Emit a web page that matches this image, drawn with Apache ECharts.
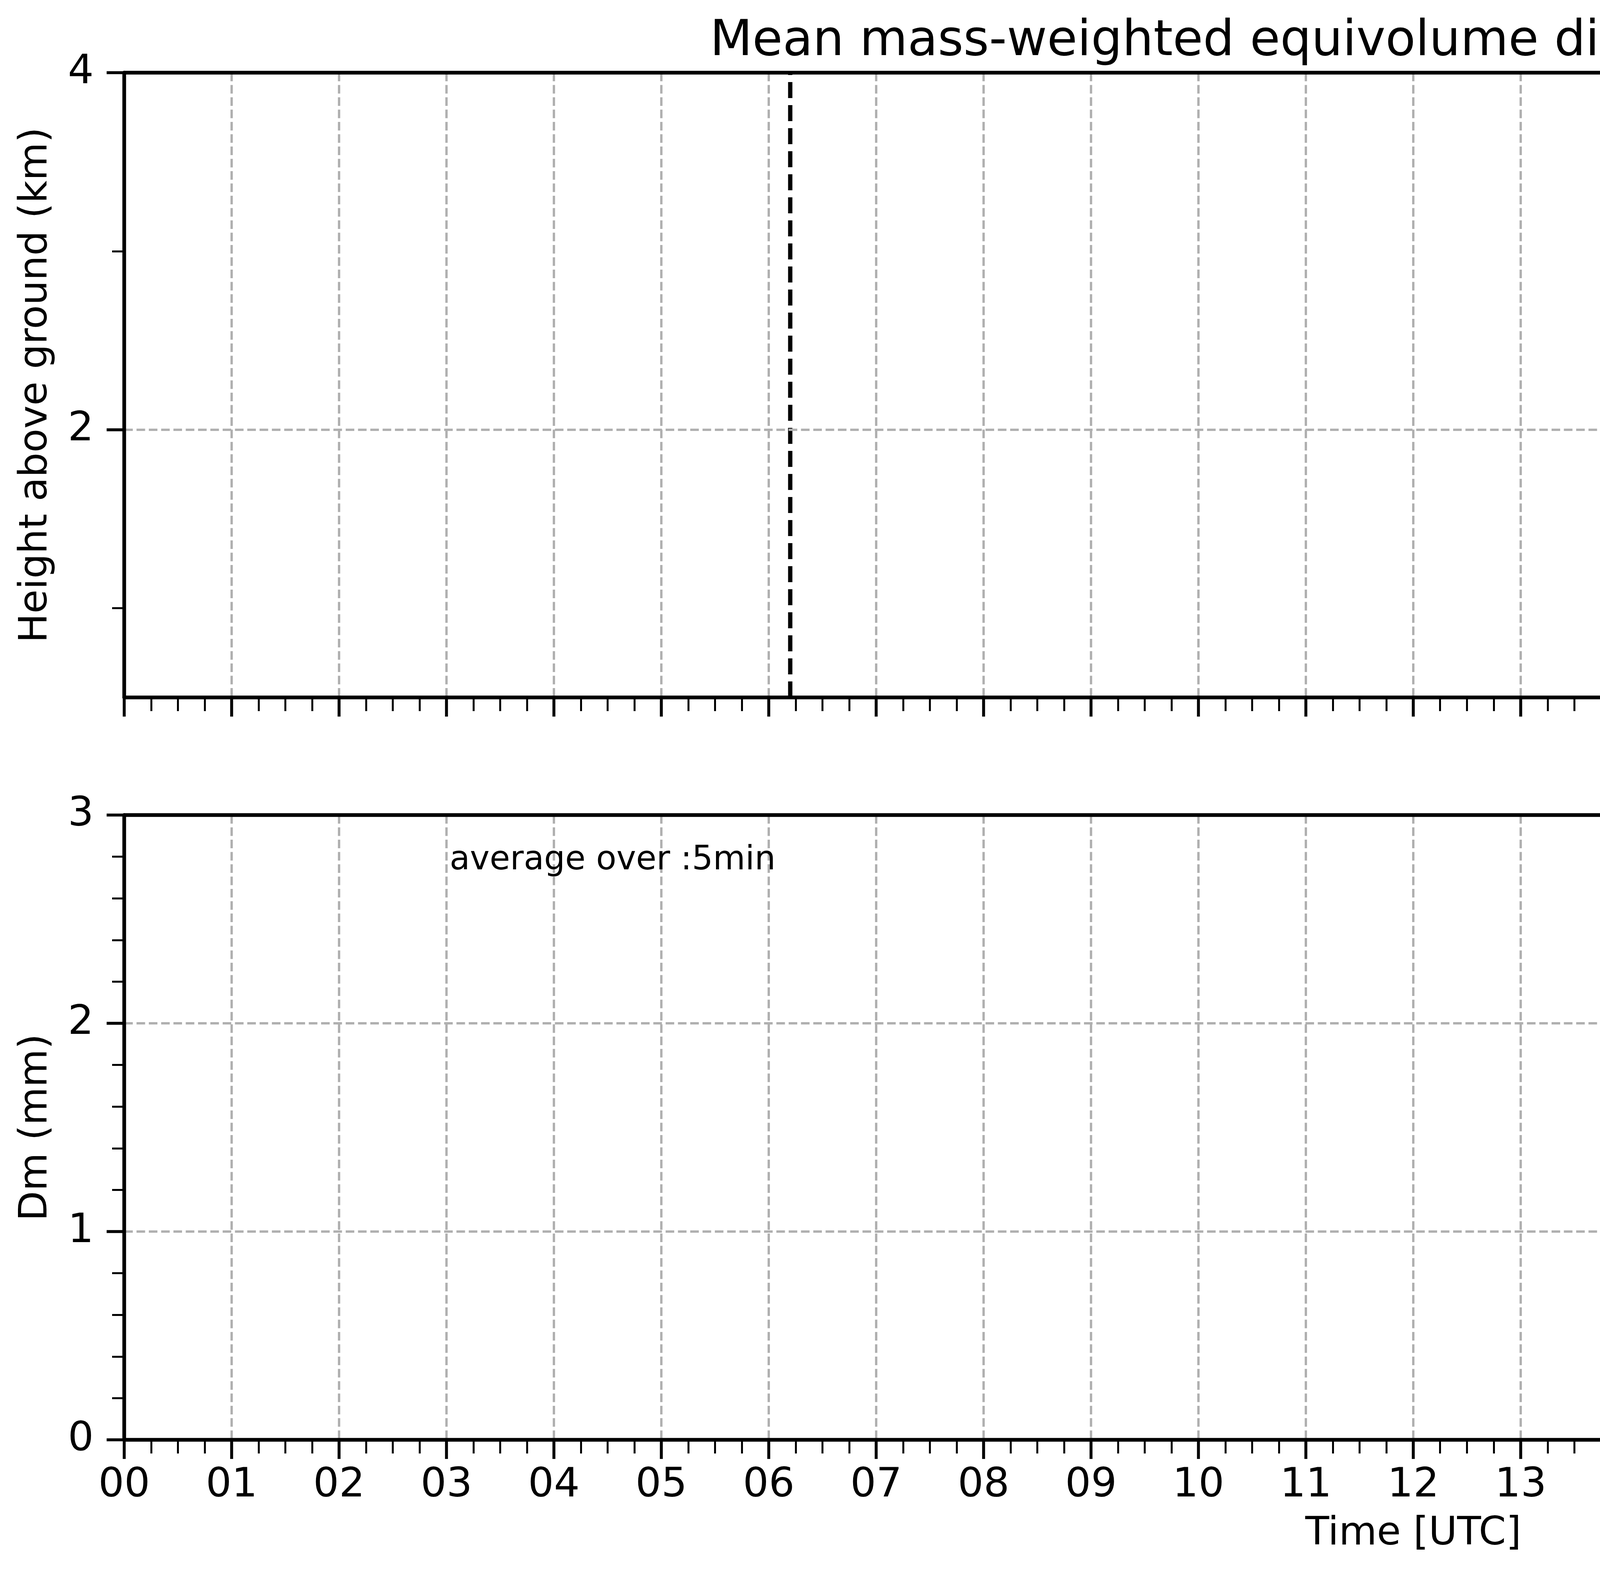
<!DOCTYPE html>
<html>
<head>
<meta charset="utf-8">
<script src="https://cdn.jsdelivr.net/npm/echarts@6/dist/echarts.min.js"></script>
<style>
html,body{margin:0;padding:0;background:#fff;overflow:hidden;}
#chart{width:7442px;height:4031px;}
</style>
</head>
<body>
<div id="chart"></div>
<script>
// ---------------- data ----------------
const titleText = 'Mean mass-weighted equivolume diameter on 20250219';
const hourLabels = ['00','01','02','03','04','05','06','07','08','09','10','11',
                    '12','13','14','15','16','17','18','19','20','21','22','23'];
const timeRange = [0, 24];
const heightRange = [0.5, 4];
const heightTicks = [2, 4];
const heightMinorTicks = [1, 3];
const dmRange = [0, 3];
const colorbarRange = [0, 2];
const colorbarTicks = [0, 0.4, 0.8, 1.2, 1.6, 2.0];
const eventTimes = [6.2, 16.7];      // dashed vertical markers (UTC hours)
const dmTimes = [];                  // no Dm observations on this day
const dmValues = [];
const noteText = 'average over :5min';
const noteAnchor = [3, 2.726];       // data coords in lower panel (hour, mm)

// ---------------- styling helpers ----------------
const FONT = 'DejaVu Sans';
const jetStops = [
  [0.000,'#000080'],[0.110,'#0000ff'],[0.125,'#0000ff'],[0.340,'#00dbff'],
  [0.350,'#00e5f7'],[0.375,'#14ffe2'],[0.640,'#eeff08'],[0.650,'#f7f500'],
  [0.660,'#ffec00'],[0.890,'#ff1300'],[0.910,'#e80000'],[1.000,'#800000']
];
const gridLine = {show:true, lineStyle:{color:'#b0b0b0', width:6, type:[22,9.5]}};
const axisLineStyle = {show:true, onZero:false, lineStyle:{color:'#000', width:9.5}};

function timeAxis(gridIndex, withLabels) {
  return {
    type:'value', gridIndex, position:'bottom', min:timeRange[0], max:timeRange[1], interval:1,
    axisLine: axisLineStyle,
    axisTick: {show:true, length:49, lineStyle:{color:'#000', width:7.5}},
    minorTick: {show:true, splitNumber:4, length:35, lineStyle:{color:'#000', width:5}},
    minorSplitLine: {show:false},
    splitLine: gridLine,
    axisLabel: {show:withLabels, margin:66, fontSize:104, color:'#000', fontFamily:FONT,
                showMinLabel:true, showMaxLabel:true,
                formatter: v => (hourLabels[Math.round(v)] !== undefined && Math.abs(v - Math.round(v)) < 1e-9) ? hourLabels[Math.round(v)] : ''},
    name: withLabels ? 'Time [UTC]' : '',
    nameLocation:'middle', nameGap:192,
    nameTextStyle:{fontSize:100, color:'#000', fontFamily:FONT},
    z: 4
  };
}
// plain spine (top / right) drawn above the grid lines
function spineX(gridIndex) {
  return {type:'value', gridIndex, position:'top', min:timeRange[0], max:timeRange[1],
          axisLine:axisLineStyle, axisTick:{show:false}, axisLabel:{show:false},
          splitLine:{show:false}, z:6};
}
function spineY(gridIndex, range) {
  return {type:'value', gridIndex, position:'right', min:range[0], max:range[1],
          axisLine:axisLineStyle, axisTick:{show:false}, axisLabel:{show:false},
          splitLine:{show:false}, z:6};
}

const chart = echarts.init(document.getElementById('chart'), null, {renderer:'canvas'});

const series = [];
// lower panel: Dm time series (empty for this date)
series.push({
  type:'line', xAxisIndex:1, yAxisIndex:2, symbol:'none',
  data: dmTimes.map((t,i) => [t, dmValues[i]]),
  lineStyle:{color:'#000', width:6}
});
// dashed event lines in the upper panel
eventTimes.forEach(t => {
  series.push({
    type:'line', xAxisIndex:0, yAxisIndex:0, symbol:'none', silent:true,
    data: [[t, heightRange[0]], [t, heightRange[1]]],
    lineStyle:{color:'#000', width:11, type:[41,18]},
    z: 3
  });
});
// colorbar
series.push({
  type:'bar', xAxisIndex:2, yAxisIndex:3, barWidth:'100%', silent:true,
  data:[colorbarRange[1]],
  itemStyle:{color: new echarts.graphic.LinearGradient(0,1,0,0,
      jetStops.map(s => ({offset:s[0], color:s[1]})))}
});

const option = {
  backgroundColor:'#fff',
  animation:false,
  title:{
    text:titleText, left:3618, top:40, textAlign:'center',
    textStyle:{fontSize:126, fontWeight:'normal', color:'#000', fontFamily:FONT}
  },
  grid:[
    {left:318, top:186, width:6600, height:1599, show:false, containLabel:false},
    {left:318, top:2086, width:6600, height:1599, show:false, containLabel:false},
    {left:6992, top:186, width:113, height:1599, show:true, borderColor:'#000', borderWidth:5, backgroundColor:'transparent', containLabel:false}
  ],
  xAxis:[
    timeAxis(0, false),
    timeAxis(1, true),
    {type:'category', gridIndex:2, data:['cb'], show:false},
    spineX(0),
    spineX(1)
  ],
  yAxis:[
    { // upper panel height axis (major)
      type:'value', gridIndex:0, position:'left', min:heightRange[0], max:heightRange[1],
      axisLine:axisLineStyle,
      axisTick:{show:true, length:45, customValues:heightTicks, lineStyle:{color:'#000', width:7.5}},
      axisLabel:{show:true, customValues:heightTicks, margin:78, fontSize:104, color:'#000', fontFamily:FONT,
                 showMinLabel:true, showMaxLabel:true},
      splitLine:gridLine,
      name:'Height above ground (km)', nameLocation:'middle', nameGap:175, nameRotate:90,
      nameTextStyle:{fontSize:100, color:'#000', fontFamily:FONT},
      z:4
    },
    { // upper panel minor ticks
      type:'value', gridIndex:0, position:'left', min:heightRange[0], max:heightRange[1],
      axisLine:{show:false},
      axisTick:{show:true, length:31, customValues:heightMinorTicks, lineStyle:{color:'#000', width:5}},
      axisLabel:{show:false},
      splitLine:{show:false}
    },
    { // lower panel Dm
      type:'value', gridIndex:1, position:'left', min:dmRange[0], max:dmRange[1], interval:1,
      axisLine:axisLineStyle,
      axisTick:{show:true, length:45, lineStyle:{color:'#000', width:7.5}},
      minorTick:{show:true, splitNumber:5, length:31, lineStyle:{color:'#000', width:5}},
      minorSplitLine:{show:false},
      axisLabel:{show:true, margin:78, fontSize:104, color:'#000', fontFamily:FONT,
                 showMinLabel:true, showMaxLabel:true},
      splitLine:gridLine,
      name:'Dm (mm)', nameLocation:'middle', nameGap:175, nameRotate:90,
      nameTextStyle:{fontSize:100, color:'#000', fontFamily:FONT},
      z:4
    },
    { // colorbar axis
      type:'value', gridIndex:2, position:'right', min:colorbarRange[0], max:colorbarRange[1],
      axisLine:{show:true, lineStyle:{color:'#000', width:5}},
      axisTick:{show:true, length:21, customValues:colorbarTicks, lineStyle:{color:'#000', width:5}},
      axisLabel:{show:true, customValues:colorbarTicks, margin:52, fontSize:80, color:'#000', fontFamily:FONT,
                 showMinLabel:true, showMaxLabel:true, formatter: v => v.toFixed(1)},
      splitLine:{show:false},
      name:'Dm (mm)', nameLocation:'middle', nameGap:203, nameRotate:90,
      nameTextStyle:{fontSize:80, color:'#000', fontFamily:FONT}
    },
    spineY(0, heightRange),
    spineY(1, dmRange)
  ],
  series
};
chart.setOption(option);

// annotation placed through the lower panel's scales
const notePx = chart.convertToPixel({xAxisIndex:1, yAxisIndex:2}, noteAnchor);
chart.setOption({
  graphic:[{
    type:'text', x:notePx[0] + 8, y:notePx[1] - 29, silent:true, z:10,
    style:{text:noteText, fill:'#000', font:'85px "DejaVu Sans"', textAlign:'left', textVerticalAlign:'middle', verticalAlign:'middle'}
  }]
});
</script>
</body>
</html>
